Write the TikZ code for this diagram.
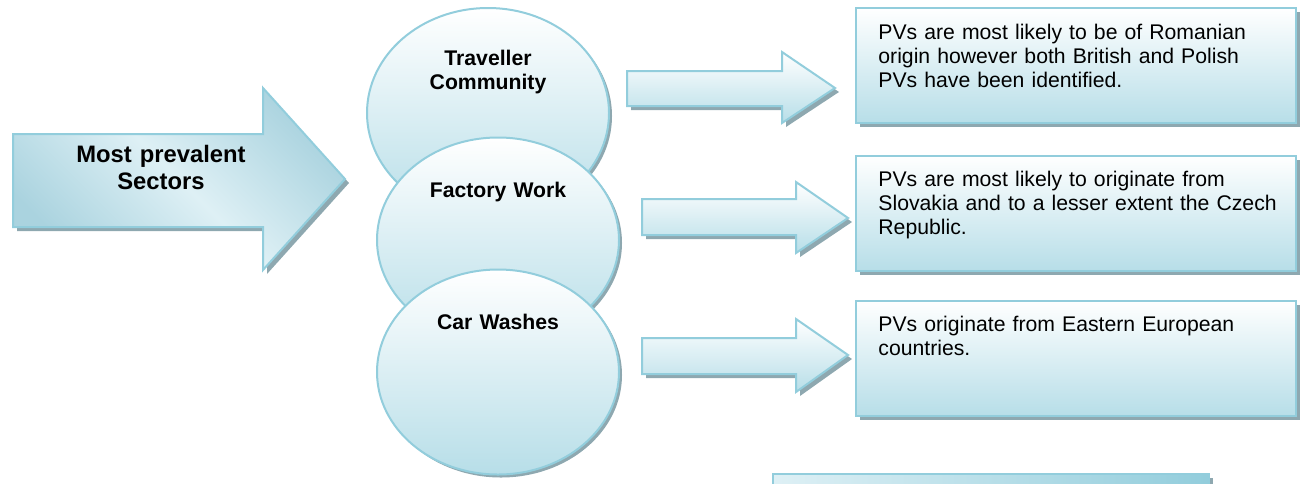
\documentclass[tikz,border=0pt]{standalone}
\usepackage{fontspec}
\setmainfont{Liberation Sans}
\usepackage{tikz}
\usetikzlibrary{shapes.geometric,shadows,positioning}

\definecolor{rim}{RGB}{146,205,220}
\definecolor{paleblue}{RGB}{183,222,232}
\definecolor{deepblue}{RGB}{170,211,223}
\definecolor{lightblue}{RGB}{222,240,245}
\definecolor{shadowgray}{RGB}{142,168,176}

\begin{document}
\begin{tikzpicture}
[
x=0.5pt, y=-0.5pt,
flatshadow/.style={drop shadow={shadow xshift=#1, shadow yshift=-#1, fill=shadowgray, opacity=1}},
sector/.style={ellipse, draw=rim, line width=1pt, top color=white, bottom color=paleblue, minimum width=121pt, minimum height=102.5pt, inner sep=0pt, flatshadow=1.5pt},
sector_txt/.style={text width=110pt, align=center, anchor=base, inner sep=0pt, font=\fontsize{10.6}{12}\selectfont\bfseries},
pointer/.style={draw=rim, line width=1pt, top color=white, bottom color=paleblue, flatshadow=2pt},
info/.style={rectangle, draw=rim, line width=1pt, top color=white, bottom color=paleblue, minimum width=220pt, minimum height=57.5pt, inner sep=0pt, flatshadow=2pt},
info_txt/.style={text width=205pt, align=left, anchor=base west, inner sep=0pt, font=\fontsize{10.6}{12}\selectfont}
]
\useasboundingbox (0,0) rectangle (1300,483);
\clip (0,0) rectangle (1300,483);

%Lead arrow
\draw[draw=rim, line width=1pt, top color=deepblue, bottom color=deepblue, middle color=lightblue, shading angle=-45, flatshadow=2pt]
  (13,134) -- (263,134) -- (263,88) -- (345,179) -- (263,270) -- (263,227) -- (13,227) -- cycle;
\node[text width=150pt, align=center, anchor=base, inner sep=0pt, font=\fontsize{11.9}{13.8}\selectfont\bfseries] (lead) at (161,162) {Most prevalent\\Sectors};

%Sectors
\node[sector, minimum height=105pt] (traveller) at (488,113) {};
\node[sector_txt]   (traveller_txt) at (488,65)  {Traveller\\Community};
\node[sector]       (factory)       at (498,240) {};
\node[sector_txt]   (factory_txt)   at (498,197) {Factory Work};
\node[sector]       (carwash)       at (498,372) {};
\node[sector_txt]   (carwash_txt)   at (498,329) {Car Washes};

%Pointers
\draw[pointer] (627,71) -- (782,71) -- (782,52) -- (835,88) -- (782,123) -- (782,106) -- (627,106) -- cycle;
\draw[pointer] (642,199) -- (796,199) -- (796,182) -- (848,218) -- (796,253) -- (796,235) -- (642,235) -- cycle;
\draw[pointer] (642,338) -- (796,338) -- (796,319) -- (848,355) -- (796,392) -- (796,374) -- (642,374) -- cycle;

%Origins
\node[info] (romanian) at (1076,65.5) {};
\node[info_txt] (romanian_txt) at (878,39)
  {PVs are most likely to be of Romanian\\origin however both British and Polish\\PVs have been identified.};
\node[info] (slovak) at (1076,213) {};
\node[info_txt] (slovak_txt) at (878,186)
  {PVs are most likely to originate from\\Slovakia and to a lesser extent the Czech\\Republic.};
\node[info] (eastern) at (1076,358) {};
\node[info_txt] (eastern_txt) at (878,331)
  {PVs originate from Eastern European\\countries.};
\node[info, minimum width=218pt, left color=lightblue, right color=rim] (next) at (991,531.5) {};
\end{tikzpicture}
\end{document}
